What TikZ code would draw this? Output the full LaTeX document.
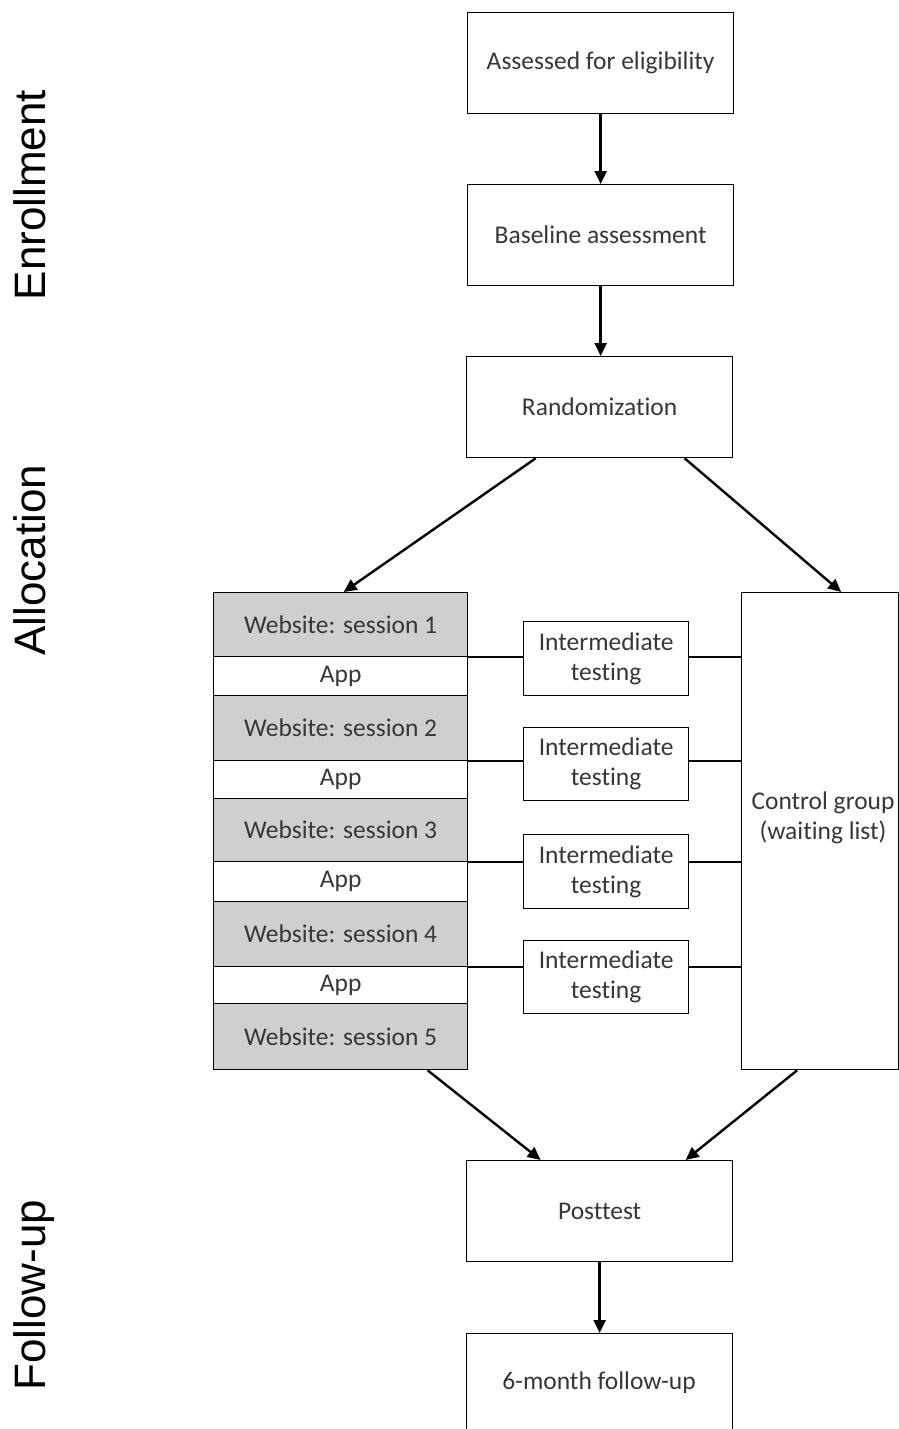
\documentclass[tikz,border=0pt]{standalone}
\usepackage{fontspec}
\setmainfont{Carlito}[Ligatures={NoCommon}]
\newfontfamily\labelfont{Liberation Sans}
\usetikzlibrary{arrows.meta,calc}
\definecolor{cellgray}{RGB}{208,206,206}
\definecolor{txt}{RGB}{55,55,55}
\begin{document}
\begin{tikzpicture}[x=1pt,y=-1pt,
  box/.style={draw=black,line width=1.3pt,fill=white,inner sep=0pt,text=txt,
    font=\fontsize{25.5}{30}\selectfont,align=center,anchor=north west},
  cell/.style={box,minimum width=254},
  web/.style={cell,fill=cellgray},
  inter/.style={box,minimum width=165},
  stage/.style={box,minimum width=266,minimum height=101},
  side/.style={rotate=90,anchor=base,font=\labelfont\fontsize{44}{50}\selectfont,text=black},
  arr/.style={line width=2.4pt,-{Triangle[length=13pt,width=12pt]}},
  link/.style={line width=1.8pt}]
\clip (0,0) rectangle (899,1429);
\fill[white] (0,0) rectangle (899,1429);

% phase labels
\node[side] (enr) at (45,195) {Enrollment};
\node[side] (alloc) at (45,560) {Allocation};
\node[side] (fol) at (45,1295) {Follow-up};

% main stages
\node[stage] (elig) at (467,12) {Assessed for eligibility};
\node[stage] (base) at (467,184) {Baseline assessment};
\node[stage] (rand) at (466,356) {Randomization};

% intervention stack
\node[web,minimum height=64] (w1) at (213,592) {Website: session 1};
\node[cell,minimum height=39] (a1) at (213,656) {App};
\node[web,minimum height=65] (w2) at (213,695) {Website: session 2};
\node[cell,minimum height=38] (a2) at (213,760) {App};
\node[web,minimum height=63] (w3) at (213,798) {Website: session 3};
\node[cell,minimum height=40] (a3) at (213,861) {App};
\node[web,minimum height=65] (w4) at (213,901) {Website: session 4};
\node[cell,minimum height=37] (a4) at (213,966) {App};
\node[web,minimum height=66] (w5) at (213,1003) {Website: session 5};

% intermediate tests
\node[inter,minimum height=74] (it1) at (523,621) {Intermediate\\testing};
\node[inter,minimum height=73] (it2) at (523,727) {Intermediate\\testing};
\node[inter,minimum height=74] (it3) at (523,834) {Intermediate\\testing};
\node[inter,minimum height=73] (it4) at (523,940) {Intermediate\\testing};

% control arm
\node[box,minimum width=157,minimum height=477] (ctrl) at (741,592) {};
\node[text=txt,font=\fontsize{25.5}{30}\selectfont,align=center] (ctrlt) at (823,818) {Control group\\(waiting list)};

% follow-up stages
\node[stage] (post) at (466,1160) {Posttest};
\node[stage,minimum height=120] (six) at (466,1333) {};
\node[text=txt,font=\fontsize{25.5}{30}\selectfont] (sixt) at (599,1383) {6-month follow-up};

% connections between arms and intermediate tests
\foreach \w/\t in {w1/it1,w2/it2,w3/it3,w4/it4}{
  \draw[link] (\w.south east) -- (\w.south east -| \t.west);
  \draw[link] (\w.south east -| \t.east) -- (\w.south east -| ctrl.west);
}

% flow arrows
\draw[arr] (elig.south) -- (base.north);
\draw[arr] (base.south) -- (base.south |- rand.north);
\draw[arr] ($(rand.south)+(-64,0)$) -- ($(w1.north)+(3,0)$);
\draw[arr] ($(rand.south)+(85,0)$) -- ($(ctrl.north)+(21,0)$);
\draw[arr] ($(w5.south)+(87,0)$) -- ($(post.north)+(-59,0)$);
\draw[arr] ($(ctrl.south)+(-23,0)$) -- ($(post.north)+(86,0)$);
\draw[arr] (post.south) -- (six.north);
\end{tikzpicture}
\end{document}
